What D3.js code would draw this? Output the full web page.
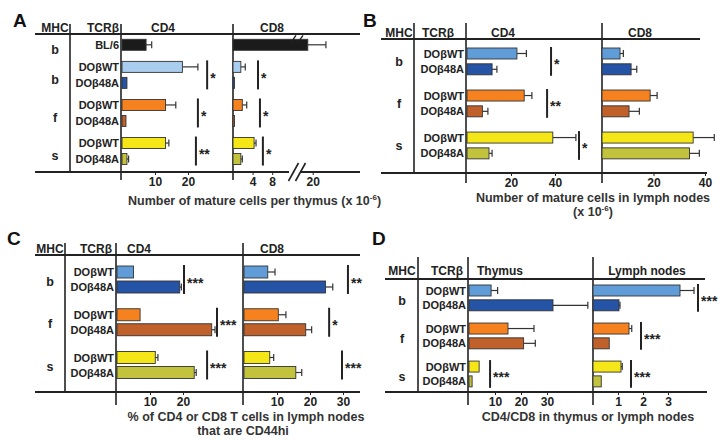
<!DOCTYPE html>
<html>
<head>
<meta charset="utf-8">
<script src="https://cdn.jsdelivr.net/npm/d3@7"></script>
<style>
  body { margin: 0; background: #fff; }
  text { font-family: "Liberation Sans", Arial, sans-serif; font-weight: bold; fill: #222; }
</style>
</head>
<body>
<svg id="fig" width="727" height="440"></svg>
<script>
// ---------- data ----------
// panel A : thymus, with a BL/6 reference row
const mhcA = ["b", "b", "f", "s"];
const tcrA = ["BL/6", "DOβWT", "DOβ48A", "DOβWT", "DOβ48A", "DOβWT", "DOβ48A"];
const groupA = [0, 1, 1, 2, 2, 3, 3];
const colorsA = ["#1b1b1b", "#a9cdee", "#2553a6", "#f5821f", "#c0602a", "#f5e617", "#c2c23c"];
const thyCD4 = [7.3, 18.3, 1.5, 13.2, 1.2, 13.2, 1.5];
const thyCD4err = [9, 23, 1.6, 16.3, 1.3, 14.2, 2];
const thyCD8 = [19, 1.6, 0.3, 1.9, 0.3, 4.3, 1.6];
const thyCD8err = [22.7, 2.5, 0.3, 2.8, 0.3, 4.7, 1.9];

// panels B-D share the six DO rows
const mhc = ["b", "f", "s"];
const tcr = ["DOβWT", "DOβ48A", "DOβWT", "DOβ48A", "DOβWT", "DOβ48A"];
const group = [0, 0, 1, 1, 2, 2];
const colors = ["#5f9cd8", "#2553a6", "#f5821f", "#c0602a", "#f5e617", "#c2c23c"];

const lnCD4 = [22.7, 11.4, 26, 7, 39, 10];
const lnCD4err = [27, 13.6, 29.5, 9.5, 49.5, 11.4];
const lnCD8 = [7, 11.3, 18.7, 10.5, 35.4, 34];
const lnCD8err = [8.3, 13.5, 21.4, 14.5, 43.6, 37.8];

const cd44CD4 = [5, 19, 7, 28.7, 11.6, 23.4];
const cd44CD4err = [5, 19.5, 7.3, 29.7, 12.4, 24];
const cd44CD8 = [7.2, 24.7, 10.4, 18.7, 7.8, 15.7];
const cd44CD8err = [9.4, 26.9, 12.7, 20.5, 9, 17.5];

const ratioThy = [8.5, 32.3, 15, 21, 3.9, 1.2];
const ratioThyErr = [11, 45.7, 25, 25.5, 4.1, 1.2];
const ratioLN = [3.48, 1.04, 1.44, 0.65, 1.12, 0.33];
const ratioLNerr = [4.04, 1.08, 1.55, 0.65, 1.17, 0.33];

// significance marks: pair of rows, value where the bar sits, label
const sigA4 = [{ rows: [1, 2], at: 25.8, label: "*" }, { rows: [3, 4], at: 23, label: "*" }, { rows: [5, 6], at: 22.4, label: "**" }];
const sigA8 = [{ rows: [1, 2], at: 5.1, label: "*" }, { rows: [3, 4], at: 5.5, label: "*" }, { rows: [5, 6], at: 6.1, label: "*" }];
const sigB4 = [{ rows: [0, 1], at: 38.2, label: "*" }, { rows: [2, 3], at: 36.4, label: "**" }, { rows: [4, 5], at: 50.9, label: "*" }];
const sigC4 = [{ rows: [0, 1], at: 20.3, label: "***" }, { rows: [2, 3], at: 30.3, label: "***" }, { rows: [4, 5], at: 27.3, label: "***" }];
const sigC8 = [{ rows: [0, 1], at: 31.5, label: "**" }, { rows: [2, 3], at: 25.8, label: "*" }, { rows: [4, 5], at: 29.7, label: "***" }];
const sigD1 = [{ rows: [4, 5], at: 8.1, label: "***" }];
const sigD2 = [{ rows: [0, 1], at: 4.2, label: "***" }, { rows: [2, 3], at: 1.92, label: "***" }, { rows: [4, 5], at: 1.52, label: "***" }];

// ---------- drawing ----------
const svg = d3.select("#fig");
const ink = "#222";

function drawPanel(p) {
    const g = svg.append("g");

    g.append("text").attr("x", p.letter[1]).attr("y", p.letter[2])
        .style("font-size", "19px").style("fill", "#111").text(p.letter[0]);

    // frame lines
    g.append("line").attr("x1", p.hx[0]).attr("x2", p.hx[1]).attr("y1", p.top).attr("y2", p.top)
        .attr("stroke", ink).attr("stroke-width", 2);
    g.append("line").attr("x1", p.hx[0]).attr("x2", p.hx[2]).attr("y1", p.bottom).attr("y2", p.bottom)
        .attr("stroke", ink).attr("stroke-width", 2);
    g.append("line").attr("x1", p.sep).attr("x2", p.sep).attr("y1", p.vTop).attr("y2", p.bottom)
        .attr("stroke", ink).attr("stroke-width", 1.6);

    // headers
    g.append("text").attr("x", p.mhcX).attr("y", p.headY).attr("text-anchor", "middle")
        .style("font-size", "12px").text("MHC");
    g.append("text").attr("x", p.tcrX).attr("y", p.headY).attr("text-anchor", "middle")
        .style("font-size", "12px").text("TCRβ");

    const slot = i => i + p.group[i] * p.gap;
    const y = d3.scaleLinear().domain([0, 1]).range([p.y0, p.y0 + p.unit]);
    const bh = p.barH;

    // MHC labels, centred on their group of rows
    p.mhc.forEach((m, k) => {
        const idx = p.group.map((gr, i) => gr === k ? i : -1).filter(i => i >= 0);
        const mid = (y(slot(idx[0])) + y(slot(idx[idx.length - 1])) + bh) / 2;
        g.append("text").attr("x", p.mhcX).attr("y", mid + p.mhcOff)
            .attr("text-anchor", "middle").style("font-size", "12.5px").text(m);
    });

    // TCR labels
    g.selectAll(".tcr").data(p.tcr).enter().append("text")
        .attr("x", p.cols[0].x0 - 2)
        .attr("y", (d, i) => y(slot(i)) + bh / 2 + 4)
        .attr("text-anchor", "end")
        .style("font-size", "11px")
        .text(d => d);

    p.cols.forEach(c => {
        const x = c.scale;

        g.append("line").attr("x1", c.x0).attr("x2", c.x0).attr("y1", p.vTop).attr("y2", p.axisEnd)
            .attr("stroke", ink).attr("stroke-width", 1.6);
        g.append("text").attr("x", c.headX).attr("y", p.headY).attr("text-anchor", "middle")
            .style("font-size", "12px").text(c.head);

        // error bars behind the bars
        const eb = g.append("g").attr("stroke", "#333").attr("stroke-width", 1.2);
        c.values.forEach((v, i) => {
            const e = c.err[i];
            if (x(e) - x(v) < 1) return;
            const cy = y(slot(i)) + bh / 2;
            eb.append("line").attr("x1", x(v)).attr("x2", x(e)).attr("y1", cy).attr("y2", cy);
            eb.append("line").attr("x1", x(e)).attr("x2", x(e)).attr("y1", cy - 3.5).attr("y2", cy + 3.5);
        });

        g.selectAll(null).data(c.values).enter().append("rect")
            .attr("x", x(0))
            .attr("y", (d, i) => y(slot(i)))
            .attr("width", d => Math.max(1.5, x(d) - x(0)))
            .attr("height", bh)
            .attr("fill", (d, i) => p.colors[i])
            .attr("stroke", "#333")
            .attr("stroke-width", 0.9);

        // axis ticks and labels
        const ax = g.append("g").attr("transform", `translate(0,${p.bottom})`)
            .call(d3.axisBottom(x).tickValues(c.ticks).tickSize(3).tickPadding(2).tickFormat(d3.format("d")));
        ax.select(".domain").remove();
        ax.selectAll(".tick line").attr("stroke", ink);
        ax.selectAll(".tick text").style("font-size", "12px").style("fill", "#222")
            .style("font-family", "'Liberation Sans', Arial, sans-serif").style("font-weight", "bold");

        // significance
        (c.sig || []).forEach(s => {
            const sx = x(s.at);
            const y1 = y(slot(s.rows[0])) - 1;
            const y2 = y(slot(s.rows[1])) + bh + 1;
            g.append("line").attr("x1", sx).attr("x2", sx).attr("y1", y1).attr("y2", y2)
                .attr("stroke", "#222").attr("stroke-width", 2);
            g.append("text").attr("x", sx + 3).attr("y", (y1 + y2) / 2 + 8)
                .style("font-size", "14px").text(s.label);
        });

        // broken axis marks
        if (c.brk) {
            const bx = c.brk;
            g.append("rect").attr("x", bx - 8).attr("y", p.bottom - 2).attr("width", 12).attr("height", 4)
                .attr("fill", "#fff");
            [-3.5, 3.5].forEach(o => {
                g.append("line").attr("x1", bx + o - 5).attr("x2", bx + o + 5)
                    .attr("y1", p.bottom + 9).attr("y2", p.bottom - 9)
                    .attr("stroke", ink).attr("stroke-width", 1.6);
                g.append("line").attr("x1", bx + o - 2.5).attr("x2", bx + o + 2.5)
                    .attr("y1", y(slot(0)) + 3).attr("y2", y(slot(0)) - 4)
                    .attr("stroke", ink).attr("stroke-width", 1.4);
            });
        }
    });

    // axis title
    p.title.forEach(t => {
        const tx = g.append("text").attr("x", t.x).attr("y", t.y)
            .attr("text-anchor", t.anchor || "middle").style("font-size", "12.5px").style("fill", "#333");
        tx.append("tspan").text(t.text);
        if (t.sup) {
            tx.append("tspan").attr("dy", -5).style("font-size", "8px").text(t.sup);
            tx.append("tspan").attr("dy", 5).text(")");
        }
    });
}

// panel A
const xA4 = d3.scaleLinear().domain([0, 20]).range([122, 188]);
const xA8 = d3.scaleLinear().domain([0, 13, 17, 24]).range([233, 296.7, 298, 332.3]);
drawPanel({
    letter: ["A", 13, 27], hx: [35, 360, 360], top: 34, bottom: 172, sep: 70, vTop: 24, axisEnd: 180,
    headY: 32, mhcX: 55, tcrX: 103, mhcOff: 9,
    y0: 39.3, unit: 16, gap: 0.38, barH: 11,
    group: groupA, mhc: mhcA, tcr: tcrA, colors: colorsA,
    cols: [
        { x0: 121, head: "CD4", headX: 163, scale: xA4, values: thyCD4, err: thyCD4err, ticks: [10, 20], sig: sigA4 },
        { x0: 233, head: "CD8", headX: 272, scale: xA8, values: thyCD8, err: thyCD8err, ticks: [4, 8, 20], sig: sigA8, brk: 297 }
    ],
    title: [{ x: 128, y: 205, anchor: "start", text: "Number of mature cells per thymus (x 10", sup: "-6" }]
});

// panel B
drawPanel({
    letter: ["B", 363, 27], hx: [381, 700, 707], top: 39, bottom: 173, sep: 414, vTop: 23, axisEnd: 183,
    headY: 37, mhcX: 399, tcrX: 438, mhcOff: 5,
    y0: 48, unit: 15.8, gap: 0.66, barH: 11,
    group: group, mhc: mhc, tcr: tcr, colors: colors,
    cols: [
        { x0: 466, head: "CD4", headX: 503, scale: d3.scaleLinear().domain([0, 40]).range([467, 555]), values: lnCD4, err: lnCD4err, ticks: [20, 40], sig: sigB4 },
        { x0: 602, head: "CD8", headX: 640, scale: d3.scaleLinear().domain([0, 40]).range([602, 705]), values: lnCD8, err: lnCD8err, ticks: [20, 40] }
    ],
    title: [{ x: 593, y: 202, text: "Number of mature cells in lymph nodes" },
            { x: 593, y: 216, text: "(x 10", sup: "-6" }]
});

// panel C
drawPanel({
    letter: ["C", 7, 245], hx: [35, 360, 360], top: 255, bottom: 392, sep: 65, vTop: 243, axisEnd: 405,
    headY: 253, mhcX: 50, tcrX: 96, mhcOff: 6,
    y0: 266, unit: 15, gap: 0.85, barH: 12,
    group: group, mhc: mhc, tcr: tcr, colors: colors,
    cols: [
        { x0: 116, head: "CD4", headX: 139, scale: d3.scaleLinear().domain([0, 20]).range([117, 183]), values: cd44CD4, err: cd44CD4err, ticks: [10, 20], sig: sigC4 },
        { x0: 243, head: "CD8", headX: 272, scale: d3.scaleLinear().domain([0, 30]).range([244, 343]), values: cd44CD8, err: cd44CD8err, ticks: [10, 20, 30], sig: sigC8 }
    ],
    title: [{ x: 246, y: 421, text: "% of CD4 or CD8 T cells in lymph nodes" },
            { x: 243, y: 435, text: "that are CD44hi" }]
});

// panel D
drawPanel({
    letter: ["D", 372, 245], hx: [385, 705, 707], top: 279, bottom: 392, sep: 418, vTop: 257, axisEnd: 405,
    headY: 275, mhcX: 402, tcrX: 447, mhcOff: 7,
    y0: 285, unit: 14.8, gap: 0.57, barH: 11,
    group: group, mhc: mhc, tcr: tcr, colors: colors,
    cols: [
        { x0: 468, head: "Thymus", headX: 500, scale: d3.scaleLinear().domain([0, 30]).range([469, 547]), values: ratioThy, err: ratioThyErr, ticks: [10, 20, 30], sig: sigD1 },
        { x0: 593, head: "Lymph nodes", headX: 647, scale: d3.scaleLinear().domain([0, 3]).range([593, 668]), values: ratioLN, err: ratioLNerr, ticks: [1, 2, 3], sig: sigD2 }
    ],
    title: [{ x: 588, y: 421, text: "CD4/CD8 in thymus or lymph nodes" }]
});
</script>
</body>
</html>
